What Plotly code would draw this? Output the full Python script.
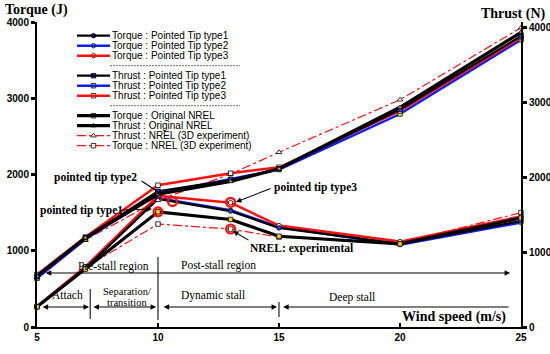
import plotly.graph_objects as go

# ---------------- data ----------------
wind_speed = [5, 7, 10, 13, 15, 20, 25]
torque_tip1 = [265, 770, 1680, 1520, 1300, 1090, 1390]
torque_tip2 = [265, 770, 1690, 1530, 1310, 1080, 1370]
torque_tip3 = [270, 790, 1720, 1630, 1330, 1120, 1450]
thrust_tip1 = [670, 1190, 1810, 1960, 2110, 2900, 3880]
thrust_tip2 = [650, 1170, 1780, 1970, 2100, 2840, 3830]
thrust_tip3 = [700, 1200, 1890, 2050, 2130, 2880, 3860]
torque_nrel = [265, 760, 1510, 1410, 1190, 1090, 1430]
thrust_nrel = [680, 1190, 1770, 1940, 2110, 2930, 3930]
thrust_exp = [660, 1160, 1690, 2040, 2330, 3030, 3990]
torque_exp = [265, 780, 1350, 1285, 1180, 1100, 1500]
highlight_x = [10, 10.6, 13, 13]
highlight_y = [1510, 1645, 1635, 1285]

x_ticks = [5, 10, 15, 20, 25]
y_ticks = [0, 1000, 2000, 3000, 4000]

legend_labels = [
    "Torque : Pointed Tip type1", "Torque : Pointed Tip type2", "Torque : Pointed Tip type3",
    "Thrust : Pointed Tip type1", "Thrust : Pointed Tip type2", "Thrust : Pointed Tip type3",
    "Torque : Original NREL", "Thrust : Original NREL",
    "Thrust : NREL (3D experiment)", "Torque : NREL (3D experiment)",
]

# ---------------- layout geometry ----------------
W, H = 550, 354
L, R, T, B = 37, 29, 22, 27
PW, PH = W - L - R, H - T - B

def px_x(px):
    return (px - L) / PW

def px_y(py):
    return (H - B - py) / PH

SANS = "Liberation Sans"
SERIF = "Liberation Serif"

styles = {
    "torque_tip1": dict(color="black", width=2.2, symbol="circle", fill="#1f3fff", size=4.5),
    "torque_tip2": dict(color="#0a1eff", width=2.5, symbol="circle", fill="#ffe800", size=4.5),
    "torque_tip3": dict(color="#ff1010", width=2.5, symbol="circle", fill="white", size=4.5),
    "thrust_tip1": dict(color="black", width=2.2, symbol="square", fill="#1f3fff", size=4.5),
    "thrust_tip2": dict(color="#0a1eff", width=2.5, symbol="square", fill="#ffe800", size=4.5),
    "thrust_tip3": dict(color="#ff1010", width=2.5, symbol="square", fill="white", size=4.5),
    "torque_nrel": dict(color="black", width=3.2, symbol="square", fill="#ffd000", size=4.5),
    "thrust_nrel": dict(color="black", width=3.2, symbol="triangle-up", fill="#e0b000", size=4.5),
    "thrust_exp": dict(color="#ff1010", width=1.2, symbol="triangle-up", fill="white", size=5, dash="dashdot"),
    "torque_exp": dict(color="#ff1010", width=1.2, symbol="square", fill="white", size=4.5, dash="dashdot"),
}

fig = go.Figure()

def add_series(key, yvals, axis):
    s = styles[key]
    fig.add_trace(go.Scatter(
        x=wind_speed, y=yvals, mode="lines+markers", yaxis=axis,
        line=dict(color=s["color"], width=s["width"], dash=s.get("dash", "solid")),
        marker=dict(symbol=s["symbol"], size=s["size"], color=s["fill"],
                    line=dict(color="black", width=0.8)),
        showlegend=False, hoverinfo="skip", cliponaxis=False))

# draw order: experiments, blue, red, black
add_series("thrust_exp", thrust_exp, "y2")
add_series("torque_exp", torque_exp, "y")
add_series("thrust_tip2", thrust_tip2, "y2")
add_series("torque_tip2", torque_tip2, "y")
add_series("thrust_tip3", thrust_tip3, "y2")
add_series("torque_tip3", torque_tip3, "y")
add_series("thrust_tip1", thrust_tip1, "y2")
add_series("torque_tip1", torque_tip1, "y")
add_series("thrust_nrel", thrust_nrel, "y2")
add_series("torque_nrel", torque_nrel, "y")

# highlight circles
fig.add_trace(go.Scatter(
    x=highlight_x, y=highlight_y, mode="markers", yaxis="y",
    marker=dict(symbol="circle-open", size=9, color="#ff1010", line=dict(width=2.2)),
    showlegend=False, hoverinfo="skip", cliponaxis=False))

# ---------------- manual legend ----------------
legend_keys = ["torque_tip1", "torque_tip2", "torque_tip3",
               "thrust_tip1", "thrust_tip2", "thrust_tip3",
               "torque_nrel", "thrust_nrel", "thrust_exp", "torque_exp"]
legend_rows_px = [35.7, 45.7, 55.7, 75.7, 85.7, 95.7, 115.7, 125.7, 135.7, 145.7]
separators_px = [65.7, 105.7]

shapes = []
annotations = []
for key, lab, py in zip(legend_keys, legend_labels, legend_rows_px):
    s = styles[key]
    shapes.append(dict(type="line", xref="paper", yref="paper",
                       x0=px_x(77), x1=px_x(110), y0=px_y(py), y1=px_y(py),
                       line=dict(color=s["color"], width=s["width"], dash=s.get("dash", "solid"))))
    fig.add_trace(go.Scatter(
        x=[px_x(93.5)], y=[px_y(py)], xaxis="x3", yaxis="y3", mode="markers",
        marker=dict(symbol=s["symbol"], size=s["size"], color=s["fill"],
                    line=dict(color="black", width=0.8)),
        showlegend=False, hoverinfo="skip", cliponaxis=False))
    annotations.append(dict(xref="paper", yref="paper", x=px_x(110), y=px_y(py),
                            text=lab, showarrow=False, xanchor="left", yanchor="middle",
                            font=dict(family=SANS, size=10, color="black")))
for py in separators_px:
    shapes.append(dict(type="line", xref="paper", yref="paper",
                       x0=px_x(110), x1=px_x(240), y0=px_y(py), y1=px_y(py),
                       line=dict(color="#444444", width=0.8, dash="2px,1px")))

# ---------------- region markers ----------------
for xv, y0, y1 in [(7.2, 105, 498), (10, 92, 918), (15, 131, 328)]:
    shapes.append(dict(type="line", xref="x", yref="y", x0=xv, x1=xv, y0=y0, y1=y1,
                       line=dict(color="#333333", width=1.3)))

def arrow(x_head, y_head, x_tail, y_tail, both=False, width=1.1, size=1.0):
    d = dict(x=x_head, y=y_head, ax=x_tail, ay=y_tail, xref="x", yref="y",
             axref="x", ayref="y", text="", showarrow=True, arrowhead=2,
             arrowsize=size, arrowwidth=width, arrowcolor="black", standoff=0,
             startstandoff=0)
    if both:
        d.update(arrowside="end+start", startarrowhead=2, startarrowsize=size)
    annotations.append(d)

# top row (pre/post stall)
arrow(24.55, 708, 5.3, 708, both=True)
# bottom row
arrow(7.15, 262, 5.17, 262, both=True)
arrow(9.92, 262, 7.27, 262, both=True)
arrow(14.92, 262, 10.17, 262, both=True)
arrow(15.17, 262, 24.55, 262)

def label(x, y, text, size=11.5, bold=False, family=SERIF, anchor="center"):
    t = f"<b>{text}</b>" if bold else text
    annotations.append(dict(x=x, y=y, xref="x", yref="y", text=t, showarrow=False,
                            xanchor=anchor, yanchor="middle",
                            font=dict(family=family, size=size, color="black")))

label(8.18, 800, "Pre-stall region", size=11.5)
label(12.52, 813, "Post-stall region", size=11.5)
label(6.28, 420, "Attach", size=11.5)
label(8.72, 466, "Separation/", size=10.5)
label(8.72, 322, "transition", size=10.5)
label(12.27, 407, "Dynamic stall", size=11.5)
label(18.02, 393, "Deep stall", size=11.5)

# callouts
arrow(10.2, 1731, 9.26, 1928)
arrow(9.75, 1548, 8.47, 1534)
arrow(13.22, 1639, 14.71, 1823)
arrow(13.1, 1259, 13.8, 1128)
label(5.62, 1967, "pointed tip type2", size=11.5, bold=True, anchor="left")
label(5.04, 1534, "pointed tip type1", size=11.5, bold=True, anchor="left")
label(14.71, 1836, "pointed tip type3", size=11.5, bold=True, anchor="left")
label(13.72, 1036, "NREL: experimental", size=11.5, bold=True, anchor="left")

# axis titles
label(24.46, 131, "Wind speed (m/s)", size=14, bold=True, anchor="right")
annotations.append(dict(xref="paper", yref="paper", x=px_x(3), y=px_y(10),
                        text="<b>Torque (J)</b>", showarrow=False, xanchor="left", yanchor="middle",
                        font=dict(family=SERIF, size=14, color="black")))
annotations.append(dict(xref="paper", yref="paper", x=px_x(548), y=px_y(14),
                        text="<b>Thrust (N)</b>", showarrow=False, xanchor="right", yanchor="middle",
                        font=dict(family=SERIF, size=14, color="black")))

tickfont = dict(family=SANS, size=10, color="black", weight="bold")

fig.update_layout(
    width=W, height=H, margin=dict(l=L, r=R, t=T, b=B, autoexpand=False),
    paper_bgcolor="white", plot_bgcolor="white", showlegend=False, hovermode=False,
    xaxis=dict(range=[5, 25], tickvals=x_ticks, ticks="inside", ticklen=4, tickwidth=1.5,
               tickcolor="black", showline=True, linecolor="black", linewidth=2,
               showgrid=False, zeroline=False, tickfont=tickfont, automargin=False),
    yaxis=dict(range=[0, 4000], tickvals=y_ticks, ticks="outside", ticklen=4, tickwidth=2.5,
               tickcolor="black", showline=True, linecolor="black", linewidth=2,
               showgrid=False, zeroline=False, tickfont=tickfont, automargin=False),
    yaxis2=dict(range=[0, 4067], tickvals=y_ticks, overlaying="y", side="right",
                ticks="outside", ticklen=4, tickwidth=2.5, tickcolor="black",
                showline=True, linecolor="black", linewidth=2,
                showgrid=False, zeroline=False, tickfont=tickfont, automargin=False),
    xaxis3=dict(range=[0, 1], overlaying="x", visible=False, domain=[0, 1], automargin=False),
    yaxis3=dict(range=[0, 1], overlaying="y", visible=False, domain=[0, 1], anchor="x3",
                automargin=False),
    shapes=shapes, annotations=annotations,
)
for tr in fig.data:
    if tr.xaxis == "x3":
        tr.update(yaxis="y3")

fig.write_html("out.html", config={"displayModeBar": False},
               post_script="document.body.style.margin='0';document.body.style.overflow='hidden';")
